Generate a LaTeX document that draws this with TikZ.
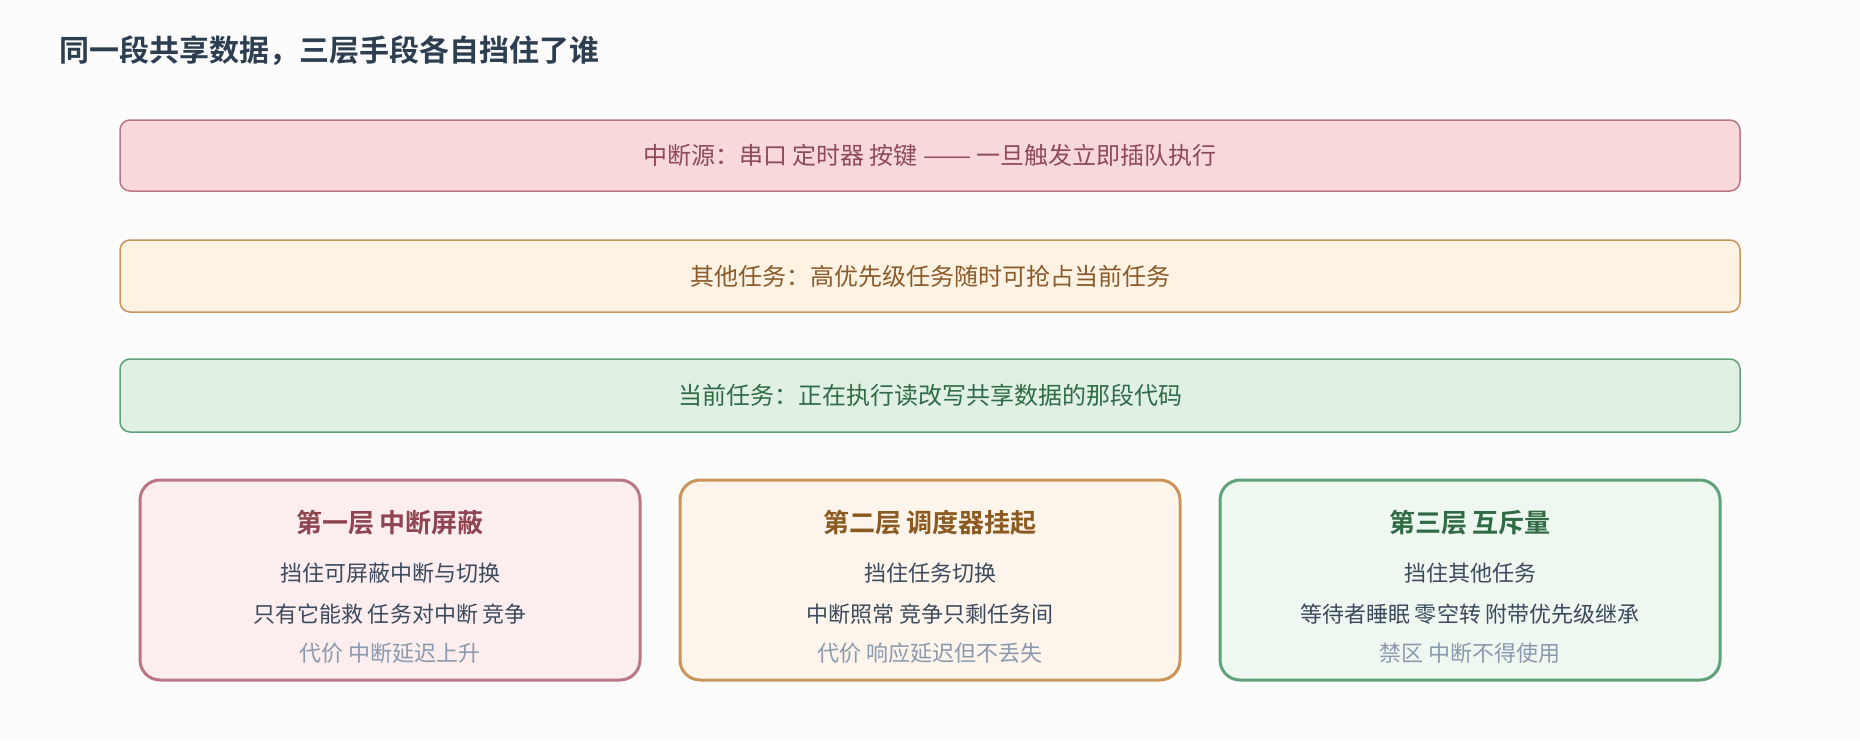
\documentclass[tikz,border=0pt]{standalone}
\usepackage{fontspec}
\usepackage{graphicx}
\setmainfont{Noto Sans CJK SC}
\newfontfamily\cjkb{Noto Sans CJK SC Bold}
\definecolor{bg}{HTML}{FCFCFD}
\definecolor{ttl}{HTML}{2C3E50}
\definecolor{rF}{HTML}{F8D8DB}\definecolor{rD}{HTML}{B97784}\definecolor{rT}{HTML}{8E4A57}
\definecolor{oF}{HTML}{FEF3E2}\definecolor{oD}{HTML}{C9955A}\definecolor{oT}{HTML}{8B5A2B}
\definecolor{gF}{HTML}{E0F1E4}\definecolor{gD}{HTML}{5FA27A}\definecolor{gT}{HTML}{2F6B45}
\definecolor{rC}{HTML}{FCEEEF}\definecolor{oC}{HTML}{FDF4EC}\definecolor{gC}{HTML}{EFF7F1}
\definecolor{rH}{HTML}{8E4550}\definecolor{oH}{HTML}{8B5A20}\definecolor{gH}{HTML}{2F6B45}
\definecolor{body}{HTML}{3B4A5C}\definecolor{muted}{HTML}{8A99AD}
\begin{document}
\begin{tikzpicture}[x=1pt,y=-1pt,
  band/.style={draw=#1D,fill=#1F,line width=1.5pt,rounded corners=10pt},
  card/.style={draw=#1D,fill=#1C,line width=3pt,rounded corners=20pt},
  bandtext/.style={anchor=base,inner sep=0pt,font=\fontsize{24}{28}\selectfont},
  cardtitle/.style={anchor=base,inner sep=0pt,font=\cjkb\fontsize{26}{30}\selectfont},
  cardline/.style={anchor=base,inner sep=0pt,text=body,font=\fontsize{22}{26}\selectfont},
  cardmuted/.style={anchor=base,inner sep=0pt,text=muted,font=\fontsize{22}{26}\selectfont}]
\fill[bg] (0,0) rectangle (1860,740);
\useasboundingbox (0,0) rectangle (1860,740);
\node[anchor=base west,inner sep=0pt,text=ttl,font=\cjkb\fontsize{30}{34}\selectfont] (title) at (59,61) {同一段共享数据，三层手段各自挡住了谁};
% bands
\draw[band=r] (120,120) rectangle (1740,191);
\node[bandtext,text=rT] (b1) at (930,164.5) {中断源：串口 定时器 按键 \scalebox{1.2}[1]{——} 一旦触发立即插队执行};
\draw[band=o] (120,240) rectangle (1740,312);
\node[bandtext,text=oT] (b2) at (930,285) {其他任务：高优先级任务随时可抢占当前任务};
\draw[band=g] (120,359) rectangle (1740,432);
\node[bandtext,text=gT] (b3) at (930,404.5) {当前任务：正在执行读改写共享数据的那段代码};
% cards
\draw[card=r] (140,480) rectangle (640,680);
\node[cardtitle,text=rH] (c1t) at (390,532.5) {第一层 中断屏蔽};
\node[cardline] (c1a) at (390,581) {挡住可屏蔽中断与切换};
\node[cardline] (c1b) at (390,622) {只有它能救 任务对中断 竞争};
\node[cardmuted] (c1c) at (390,661) {代价 中断延迟上升};
\draw[card=o] (680,480) rectangle (1180,680);
\node[cardtitle,text=oH] (c2t) at (930,532.5) {第二层 调度器挂起};
\node[cardline] (c2a) at (930,581) {挡住任务切换};
\node[cardline] (c2b) at (930,622) {中断照常 竞争只剩任务间};
\node[cardmuted] (c2c) at (930,661) {代价 响应延迟但不丢失};
\draw[card=g] (1220,480) rectangle (1720,680);
\node[cardtitle,text=gH] (c3t) at (1470,532.5) {第三层 互斥量};
\node[cardline] (c3a) at (1470,581) {挡住其他任务};
\node[cardline] (c3b) at (1470,622) {等待者睡眠 零空转 附带优先级继承};
\node[cardmuted] (c3c) at (1470,661) {禁区 中断不得使用};
\end{tikzpicture}
\end{document}
